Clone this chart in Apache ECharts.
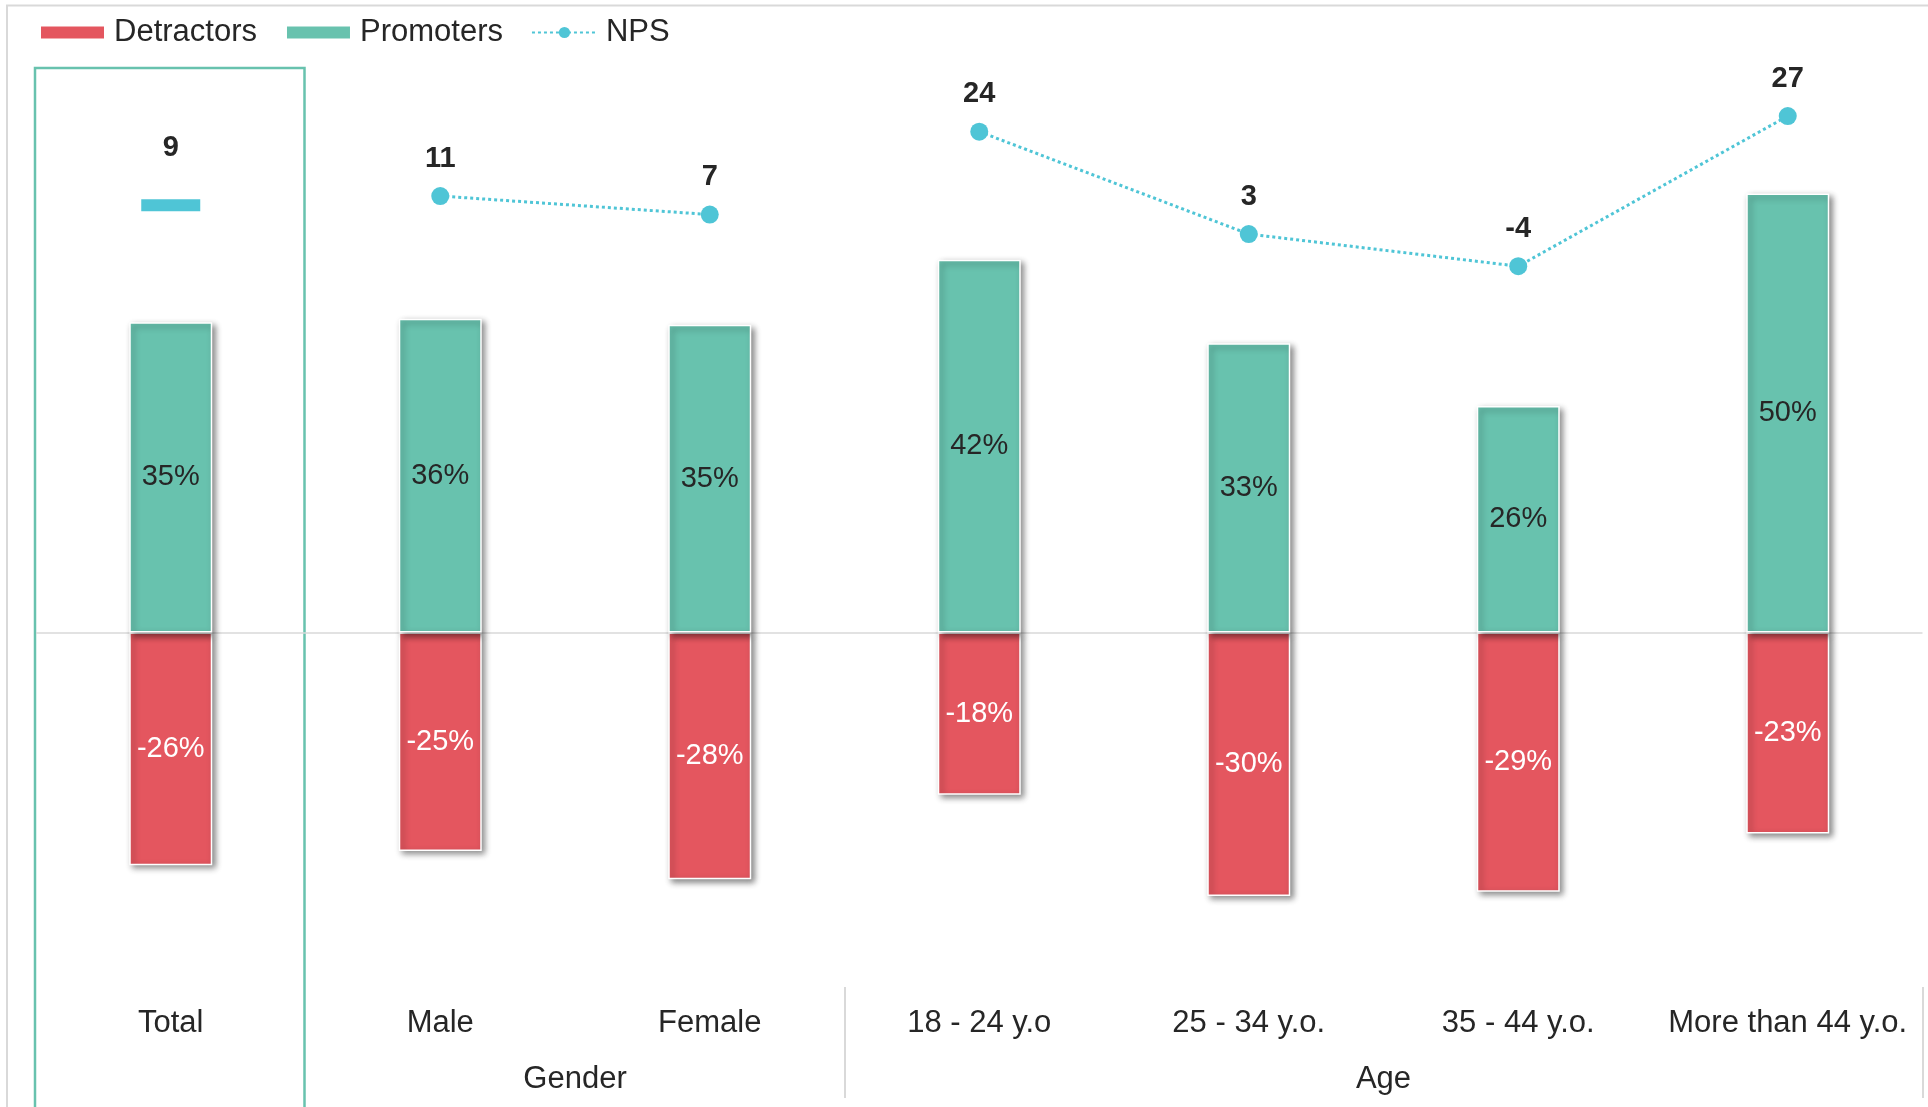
<!DOCTYPE html>
<html>
<head>
<meta charset="utf-8">
<title>NPS by segment</title>
<script src="https://cdn.jsdelivr.net/npm/echarts@6/dist/echarts.min.js"></script>
<style>
  html, body { margin: 0; padding: 0; background: #ffffff; }
  #chart { width: 1928px; height: 1107px; }
</style>
</head>
<body>
<div id="chart"></div>
<script>
// Segments shown along the x axis, and the group each one belongs to
const categories = ['Total', 'Male', 'Female', '18 - 24 y.o', '25 - 34 y.o.', '35 - 44 y.o.', 'More than 44 y.o.'];
const categoryGroup = [null, 'Gender', 'Gender', 'Age', 'Age', 'Age', 'Age'];

// Share of respondents (%) per segment
const promoters = [35.2, 35.6, 34.9, 42.3, 32.8, 25.7, 49.8];
const detractors = [-26.4, -24.8, -28.0, -18.4, -29.9, -29.4, -22.8];

// Net Promoter Score per segment
const npsScore = [8.8, 10.7, 6.9, 23.9, 2.9, -3.7, 27.1];

const FONT = 'Liberation Sans';
const TEXT = '#262626';
const RED = '#E4565F';
const TEAL = '#68C2AE';
const CYAN = '#4FC5D6';
const FRAME = '#D9D9D9';

// Contiguous runs of categories that share a group (in category units)
const groupSpans = [];
categoryGroup.forEach((g, i) => {
  if (!g) return;
  const last = groupSpans[groupSpans.length - 1];
  if (last && last.name === g && last.end === i) last.end = i + 1;
  else groupSpans.push({ name: g, start: i, end: i + 1 });
});
const groupLabelAt = groupSpans.map(s => (s.start + s.end) / 2);
const groupDividers = groupSpans.map(s => s.end).filter(v => v > 1);

const barItem = (color) => ({
  color: color,
  borderColor: '#ffffff',
  borderWidth: 1.5,
  shadowColor: 'rgba(0,0,0,0.45)',
  shadowBlur: 6,
  shadowOffsetX: 3,
  shadowOffsetY: 3
});

const pctLabel = (color) => ({
  show: true,
  position: 'inside',
  fontFamily: FONT,
  fontSize: 29,
  color: color,
  formatter: p => Math.round(p.value) + '%'
});

const npsLabel = {
  show: true,
  position: 'top',
  distance: 14,
  fontFamily: FONT,
  fontWeight: 'bold',
  fontSize: 29,
  color: TEXT,
  formatter: p => String(Math.round(p.value))
};

const npsLine = {
  color: CYAN,
  width: 3,
  type: [3, 3]
};

// One connected line per group, so groups are not joined to each other
const npsGroupSeries = groupSpans.map(span => ({
  name: 'NPS',
  type: 'line',
  xAxisIndex: 0,
  yAxisIndex: 1,
  data: npsScore.map((v, i) => (i >= span.start && i < span.end ? v : '-')),
  connectNulls: false,
  symbol: 'circle',
  symbolSize: 18,
  lineStyle: npsLine,
  itemStyle: { color: CYAN },
  label: npsLabel,
  z: 5
}));

// Overall score, drawn as a dash marker
const npsTotalSeries = {
  name: 'NPS',
  type: 'line',
  xAxisIndex: 0,
  yAxisIndex: 1,
  data: npsScore.map((v, i) => (categoryGroup[i] ? '-' : v)),
  symbol: 'rect',
  symbolSize: [59, 12],
  lineStyle: npsLine,
  itemStyle: { color: CYAN },
  label: Object.assign({}, npsLabel, { distance: 37 }),
  z: 5
};

const option = {
  backgroundColor: '#ffffff',
  animation: false,
  textStyle: { fontFamily: FONT },
  legend: {
    left: 34,
    top: 12,
    itemWidth: 65,
    itemHeight: 14,
    itemGap: 28,
    textStyle: { fontFamily: FONT, fontSize: 31, color: TEXT, padding: [0, 0, 0, 4] },
    data: [
      { name: 'Detractors', icon: 'rect' },
      { name: 'Promoters', icon: 'rect' },
      { name: 'NPS' }
    ]
  },
  grid: { left: 36, right: 5.5, top: 68, bottom: 120, containLabel: false },
  xAxis: [
    {
      type: 'category',
      data: categories,
      position: 'bottom',
      axisLine: { show: false, onZero: false },
      axisTick: { show: false },
      splitLine: { show: false },
      axisLabel: { fontFamily: FONT, fontSize: 31, color: TEXT, margin: 21, interval: 0 }
    },
    {
      // group captions and dividers underneath the segment names
      type: 'value',
      min: 0,
      max: categories.length,
      position: 'bottom',
      axisLine: { show: false, onZero: false },
      splitLine: { show: false },
      axisTick: {
        show: true,
        customValues: groupDividers,
        length: 111,
        lineStyle: { color: FRAME, width: 2 }
      },
      axisLabel: {
        show: true,
        customValues: groupLabelAt,
        margin: 77,
        fontFamily: FONT,
        fontSize: 31,
        color: TEXT,
        formatter: v => {
          const idx = groupLabelAt.indexOf(v);
          return idx >= 0 ? groupSpans[idx].name : '';
        }
      }
    }
  ],
  yAxis: [
    { type: 'value', min: -40.22, max: 64.04, show: false, splitLine: { show: false } },
    { type: 'value', min: -151.5, max: 36.95, show: false, splitLine: { show: false } }
  ],
  series: [
    {
      name: 'Detractors',
      type: 'bar',
      xAxisIndex: 0,
      yAxisIndex: 0,
      data: detractors,
      barWidth: 83,
      barGap: '-100%',
      itemStyle: barItem(RED),
      label: pctLabel('#ffffff'),
      z: 2
    },
    {
      name: 'Promoters',
      type: 'bar',
      xAxisIndex: 0,
      yAxisIndex: 0,
      data: promoters,
      barWidth: 83,
      barGap: '-100%',
      itemStyle: barItem(TEAL),
      label: pctLabel(TEXT),
      markLine: {
        silent: true,
        symbol: ['none', 'none'],
        label: { show: false },
        lineStyle: { color: FRAME, type: 'solid', width: 1.5 },
        data: [{ yAxis: 0 }],
        z: 1
      },
      z: 3
    },
    ...npsGroupSeries,
    npsTotalSeries
  ]
};

const chart = echarts.init(document.getElementById('chart'), null, { renderer: 'canvas' });
chart.setOption(option);

// Frame around the whole chart and a highlight box around the "Total" column
const c0 = chart.convertToPixel({ xAxisIndex: 0 }, categories[0]);
const c1 = chart.convertToPixel({ xAxisIndex: 0 }, categories[1]);
const band = c1 - c0;
const plotTop = chart.convertToPixel({ yAxisIndex: 0 }, option.yAxis[0].max);
chart.setOption({
  graphic: [
    {
      type: 'rect',
      silent: true,
      z: -1,
      shape: { x: 7, y: 5.5, width: 2000, height: 1200 },
      style: { fill: null, stroke: FRAME, lineWidth: 2 }
    },
    {
      type: 'rect',
      silent: true,
      z: 0,
      shape: { x: c0 - band / 2 - 1, y: plotTop, width: band, height: 1200 },
      style: { fill: null, stroke: TEAL, lineWidth: 2.5 }
    }
  ]
});
</script>
</body>
</html>
